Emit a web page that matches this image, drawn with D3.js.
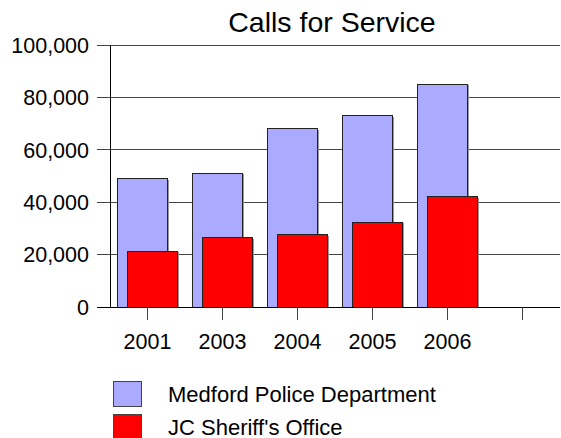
<!DOCTYPE html>
<html>
<head>
<meta charset="utf-8">
<script src="https://cdn.jsdelivr.net/npm/d3@7"></script>
<style>
  body { margin: 0; background: #fff; }
  text { font-family: "Liberation Sans", Arial, sans-serif; }
</style>
</head>
<body>
<script>
// Chart data
var years = ["2001", "2003", "2004", "2005", "2006", ""];
var seriesNames = ["Medford Police Department", "JC Sheriff's Office"];
var medford = [49000, 51000, 68000, 73000, 85000];
var sheriff = [21300, 26500, 27500, 32300, 42000];
var yTicks = [0, 20000, 40000, 60000, 80000, 100000];
var colors = ["#aaaaff", "#ff0000"];

var svgWidth = 561;
var svgHeight = 438;
var margin = { top: 45, right: 1, bottom: 131, left: 110 };
var chartWidth = svgWidth - margin.left - margin.right;
var chartHeight = svgHeight - margin.top - margin.bottom;

var svg = d3.select("body")
  .append("svg")
  .attr("width", svgWidth)
  .attr("height", svgHeight);

var xScale = d3.scaleBand()
  .domain(years)
  .range([0, chartWidth]);

var yScale = d3.scaleLinear()
  .domain([0, 100000])
  .range([chartHeight, 0]);

var chartGroup = svg.append("g")
  .attr("transform", `translate(${margin.left}, ${margin.top})`);

// Title
svg.append("text")
  .attr("x", 332)
  .attr("y", 32)
  .attr("text-anchor", "middle")
  .attr("font-size", "28.5px")
  .text("Calls for Service");

// Gridlines (with short outside tick)
chartGroup.append("g")
  .selectAll("line")
  .data(yTicks)
  .enter()
  .append("line")
  .attr("x1", -13)
  .attr("x2", chartWidth)
  .attr("y1", d => yScale(d))
  .attr("y2", d => yScale(d))
  .attr("stroke", d => d === 0 ? "#000" : "#444")
  .attr("stroke-width", 1)
  .attr("shape-rendering", "crispEdges");

// Y tick labels
chartGroup.append("g")
  .selectAll("text")
  .data(yTicks)
  .enter()
  .append("text")
  .attr("x", -21)
  .attr("y", d => yScale(d))
  .attr("dy", "0.36em")
  .attr("text-anchor", "end")
  .attr("font-size", "21.5px")
  .text(d => d3.format(",")(d));

var bw = 50;

function drawBars(values, color, shift) {
  var g = chartGroup.append("g");
  // faint shadow
  g.selectAll("rect.shadow")
    .data(values)
    .enter()
    .append("rect")
    .attr("x", (d, i) => xScale(years[i]) + xScale.bandwidth() / 2 - bw / 2 + shift + 1)
    .attr("y", d => yScale(d) + 1)
    .attr("width", bw)
    .attr("height", d => chartHeight - yScale(d) - 1)
    .attr("fill", "#999")
    .attr("shape-rendering", "crispEdges");
  g.selectAll("rect.bar")
    .data(values)
    .enter()
    .append("rect")
    .attr("x", (d, i) => xScale(years[i]) + xScale.bandwidth() / 2 - bw / 2 + shift)
    .attr("y", d => yScale(d))
    .attr("width", bw)
    .attr("height", d => chartHeight - yScale(d))
    .attr("fill", color)
    .attr("stroke", "#222")
    .attr("stroke-width", 1)
    .attr("shape-rendering", "crispEdges");
}

drawBars(medford, colors[0], -5);
drawBars(sheriff, colors[1], 5);

// Y axis line
chartGroup.append("line")
  .attr("x1", 0).attr("x2", 0)
  .attr("y1", 0).attr("y2", chartHeight)
  .attr("stroke", "#000")
  .attr("shape-rendering", "crispEdges");

// X axis
var bottomAxis = d3.axisBottom(xScale).tickSize(13).tickSizeOuter(0);
var xAxis = chartGroup.append("g")
  .attr("transform", `translate(0, ${chartHeight})`)
  .call(bottomAxis);
xAxis.select(".domain").attr("stroke", "#000").attr("d", `M-13,0.5H${chartWidth}`);
xAxis.selectAll(".tick line").attr("stroke", "#444").attr("shape-rendering", "crispEdges");
xAxis.selectAll(".tick text")
  .attr("font-size", "21.5px")
  .attr("font-family", "Liberation Sans, Arial, sans-serif")
  .attr("fill", "#000")
  .attr("y", 42)
  .attr("dy", null);

// Legend
var legend = svg.append("g")
  .selectAll("g")
  .data(seriesNames)
  .enter()
  .append("g")
  .attr("transform", (d, i) => `translate(113, ${381 + i * 33})`);

legend.append("rect")
  .attr("width", 28)
  .attr("height", 25)
  .attr("fill", (d, i) => colors[i])
  .attr("stroke", "#444")
  .attr("shape-rendering", "crispEdges");

legend.append("text")
  .attr("x", 55)
  .attr("y", 21)
  .attr("font-size", "22px")
  .text(d => d);
</script>
</body>
</html>
